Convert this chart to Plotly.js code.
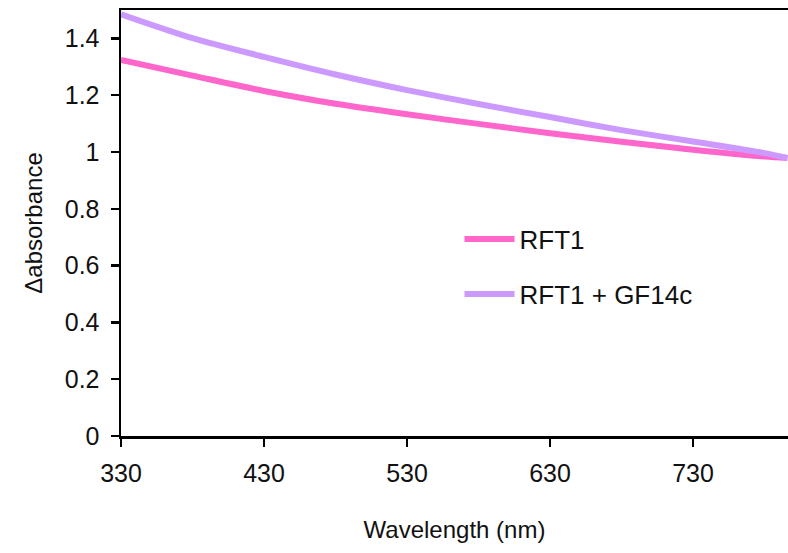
<!DOCTYPE html>
<html>
<head>
<meta charset="utf-8">
<script src="https://cdn.plot.ly/plotly-3.0.1.min.js"></script>
<style>html,body{margin:0;padding:0;background:#fff;}#chart{width:788px;height:553px;}</style>
</head>
<body>
<div id="chart"></div>
<script>
const wavelength = [330, 380, 430, 480, 530, 580, 630, 680, 730, 780, 796];
const rft1 =       [1.324, 1.269, 1.215, 1.170, 1.133, 1.099, 1.066, 1.036, 1.008, 0.984, 0.979];
const rft1GF14c =  [1.485, 1.401, 1.335, 1.273, 1.218, 1.169, 1.123, 1.077, 1.037, 0.996, 0.979];
const xTicks = [330, 430, 530, 630, 730];
const yTicks = [0, 0.2, 0.4, 0.6, 0.8, 1, 1.2, 1.4];

const font = {family: '"Liberation Sans", Arial, Helvetica, sans-serif', color: '#111', size: 24};

const traces = [
  {x: wavelength, y: rft1, name: 'RFT1', mode: 'lines', type: 'scatter',
   line: {color: '#FF66CC', width: 6, shape: 'spline', smoothing: 0.8}, legend: 'legend'},
  {x: wavelength, y: rft1GF14c, name: 'RFT1 + GF14c', mode: 'lines', type: 'scatter',
   line: {color: '#CC99FF', width: 6, shape: 'spline', smoothing: 0.8}, legend: 'legend2'}
];

const layout = {
  width: 788, height: 553,
  margin: {l: 121, r: 0, t: 10, b: 117},
  paper_bgcolor: '#fff', plot_bgcolor: '#fff',
  font: font,
  showlegend: true,
  xaxis: {
    range: [330, 796.4], tickvals: xTicks, ticktext: xTicks.map(String),
    showgrid: false, zeroline: false,
    showline: true, linecolor: '#000', linewidth: 2.5, mirror: true,
    ticks: 'outside', ticklen: 8, tickwidth: 2.5, tickcolor: '#000',
    ticklabelstandoff: 5,
    tickfont: {size: 25},
    title: {text: 'Wavelength (nm)', font: {size: 24}, standoff: 36}
  },
  yaxis: {
    range: [0, 1.5], tickvals: yTicks, ticktext: ['0','0.2','0.4','0.6','0.8','1','1.2','1.4'],
    showgrid: false, zeroline: false,
    showline: true, linecolor: '#000', linewidth: 2.5, mirror: false,
    ticks: 'outside', ticklen: 8, tickwidth: 2.5, tickcolor: '#000',
    ticklabelstandoff: 6,
    tickfont: {size: 25},
    title: {text: 'Δabsorbance', font: {size: 24}, standoff: 16}
  },
  legend: {x: 0.5075, y: 0.4625, xanchor: 'left', yanchor: 'middle', xref: 'paper', yref: 'paper',
           font: {size: 26}, bgcolor: 'rgba(0,0,0,0)', itemwidth: 50},
  legend2: {x: 0.5075, y: 0.333, xanchor: 'left', yanchor: 'middle', xref: 'paper', yref: 'paper',
           font: {size: 26}, bgcolor: 'rgba(0,0,0,0)', itemwidth: 50}
};

Plotly.newPlot('chart', traces, layout, {displayModeBar: false, staticPlot: true});
</script>
</body>
</html>
